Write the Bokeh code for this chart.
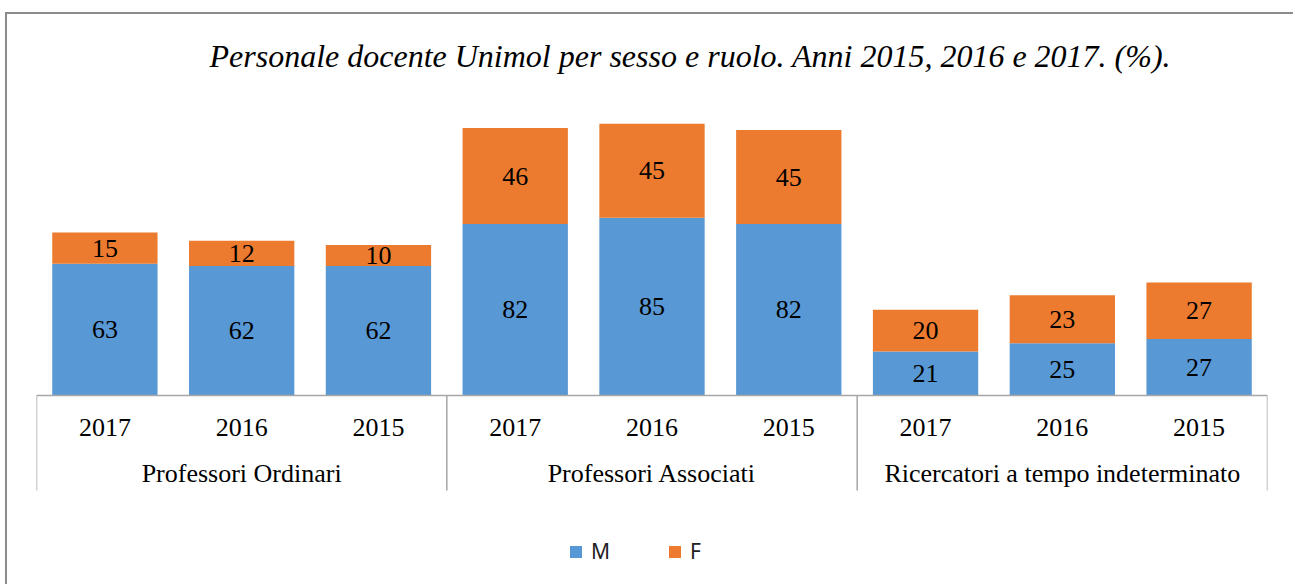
from bokeh.plotting import figure
from bokeh.models import FactorRange, ColumnDataSource, Range1d
from bokeh.core.properties import value
from bokeh.embed import file_html
from bokeh.resources import INLINE

# ---- data ----
groups = ["Professori Ordinari", "Professori Associati", "Ricercatori a tempo indeterminato"]
years = ["2017", "2016", "2015"]
m_values = [63, 62, 62, 82, 85, 82, 21, 25, 27]
f_values = [15, 12, 10, 46, 45, 45, 20, 23, 27]
series = ["M", "F"]
title_text = "Personale docente Unimol per sesso e ruolo. Anni 2015, 2016 e 2017. (%)."

# ---- styling ----
BLUE = "#5898d4"
ORANGE = "#ec7b2f"
GRID = "#a6a6a6"
SERIF = value("Liberation Serif")

factors = [(g, y) for g in groups for y in years]

W, H = 1288, 572
x_range = FactorRange(*factors, factor_padding=0, group_padding=0, range_padding=0)
p = figure(width=W, height=H, x_range=x_range, y_range=Range1d(-91.4, 144.0),
           x_axis_location=None, y_axis_location=None,
           output_backend="svg", toolbar_location=None,
           min_border_left=29, min_border_right=28, min_border_top=80, min_border_bottom=0,
           styles={"border-top": "2px solid #8c8c8c", "border-left": "2px solid #8c8c8c",
                   "margin-top": "12px", "margin-left": "5px"})
p.outline_line_color = None
p.grid.visible = False

p.title.text = title_text
p.title.text_font = "Liberation Serif"
p.title.text_font_style = "italic"
p.title.text_font_size = "32px"
p.title.text_color = "#000000"
p.title.align = "left"
p.title.offset = 173
p.title.standoff = 42

src = ColumnDataSource(dict(x=factors, M=m_values, F=f_values))
p.vbar_stack(series, x="x", width=0.77, source=src, color=[BLUE, ORANGE],
             line_color=None, legend_label=series)

# value labels
lab = ColumnDataSource(dict(
    x=factors + factors,
    y=[m / 2 for m in m_values] + [m + f / 2 for m, f in zip(m_values, f_values)],
    t=[str(v) for v in m_values] + [str(v) for v in f_values],
))
p.text(x="x", y="y", text="t", source=lab, text_font=SERIF, text_font_size="26px",
       text_align="center", text_baseline="middle", text_color="#000000")

# category axis drawn inside the frame
axis_src = ColumnDataSource(dict(x0=[(groups[0], years[0], -0.5)], x1=[(groups[-1], years[-1], 0.5)],
                                 y0=[0], y1=[0]))
p.segment("x0", "y0", "x1", "y1", source=axis_src, line_color=GRID, line_width=1.5)
edges = [(g, years[0], -0.5) for g in groups] + [(groups[-1], years[-1], 0.5)]
sep_src = ColumnDataSource(dict(x0=edges, x1=edges, y0=[0] * len(edges), y1=[-45.5] * len(edges)))
p.segment("x0", "y0", "x1", "y1", source=sep_src, line_color=GRID, line_width=1.5)

year_src = ColumnDataSource(dict(x=factors, y=[-15.3] * len(factors), t=[f[1] for f in factors]))
p.text(x="x", y="y", text="t", source=year_src, text_font=SERIF, text_font_size="26px",
       text_align="center", text_baseline="middle", text_color="#000000")
grp_src = ColumnDataSource(dict(x=groups, y=[-37.3] * len(groups), t=groups))
p.text(x="x", y="y", text="t", source=grp_src, text_font=SERIF, text_font_size="26px",
       text_align="center", text_baseline="middle", text_color="#000000")

lg = p.legend[0]
lg.orientation = "horizontal"
lg.location = (532, 21)
lg.border_line_color = None
lg.background_fill_alpha = 0
lg.padding = 0
lg.margin = 0
lg.spacing = 56
lg.glyph_width = 15
lg.glyph_height = 15
lg.label_standoff = 8
lg.label_text_font = "Noto Sans"
lg.label_text_font_size = "21px"
lg.label_text_color = "#222222"

open("out.html", "w").write(file_html(p, INLINE))
